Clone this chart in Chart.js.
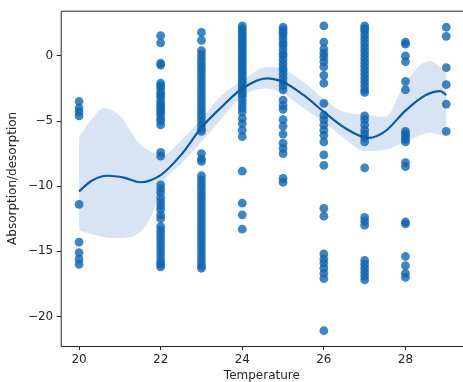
<!doctype html>
<html lang="en">
  <head>
    <meta charset="utf-8">
    <title>Absorption vs temperature</title>
    <style>
      * { margin: 0; padding: 0; }
      body { background: white; overflow: hidden; }
    </style>
  </head>
  <body>
    <canvas id="myChart" width="463" height="382"></canvas>
    <script src="https://cdn.jsdelivr.net/npm/chart.js"></script>
    <script>
    // tick labels
    const xTicks = [20, 22, 24, 26, 28];
    const yTicks = [-20, -15, -10, -5, 0];

    // observations per temperature
    const temps = [20, 22, 23, 24, 25, 26, 27, 28, 29];
    const t20 = [-3.5, -4.0, -4.3, -4.6, -11.4, -14.3, -15.1, -15.6, -16.0];
    const t22 = [1.55, 1.0, -0.55, -0.7, -2.1, -2.3, -2.5, -2.8, -3.0, -3.2, -3.5, -3.7, -3.9, -4.1, -4.3, -4.5, -4.8, -5.0, -5.3,
                 -7.4, -7.7, -9.9, -10.2, -10.5, -10.9, -11.2, -11.5, -11.8, -12.2, -12.5, -13.1, -13.4, -13.7, -14.0, -14.3,
                 -14.6, -14.9, -15.2, -15.5, -15.8, -16.0, -16.2];
    const t23 = [1.8, 1.2, 0.4, 0.1, -0.2, -0.5, -0.8, -1.1, -1.4, -1.7, -2.0, -2.3, -2.6, -2.9, -3.2, -3.5, -3.8, -4.1, -4.4,
                 -4.7, -5.0, -5.3, -5.6, -5.8, -7.5, -7.9, -8.1, -9.2, -9.5, -9.8, -10.1, -10.4, -10.7, -11.0, -11.3, -11.6,
                 -11.9, -12.2, -12.5, -12.8, -13.1, -13.4, -13.7, -14.0, -14.3, -14.6, -14.9, -15.2, -15.5, -15.8, -16.1, -16.3];
    const t24 = [2.3, 2.1, 1.9, 1.7, 1.5, 1.3, 1.1, 0.9, 0.7, 0.5, 0.3, 0.1, -0.1, -0.3, -0.5, -0.7, -0.9, -1.1, -1.3, -1.5,
                 -1.7, -1.9, -2.1, -2.3, -2.5, -2.7, -2.9, -3.1, -3.4, -3.7, -4.0, -4.3, -4.8, -5.2, -5.7, -6.2, -8.85,
                 -11.3, -12.2, -13.3];
    const t25 = [2.2, 2.0, 1.8, 1.6, 1.3, 1.0, 0.8, 0.5, 0.2, 0.0, -0.3, -0.6, -0.9, -1.1, -1.4, -1.7, -2.0, -2.3, -2.6,
                 -3.4, -3.8, -4.1, -4.9, -5.4, -6.0, -6.7, -7.1, -7.5, -9.4, -9.7];
    const t26 = [2.3, 1.05, 0.55, 0.2, -0.1, -0.45, -0.85, -1.5, -2.1, -3.65, -4.55, -4.9, -5.3, -5.7, -6.1, -6.6, -7.6, -8.4,
                 -11.7, -12.3, -15.2, -15.6, -15.9, -16.3, -16.7, -17.1, -21.1];
    const t27 = [2.3, 2.1, 1.9, 1.6, 1.3, 1.0, 0.7, 0.4, 0.1, -0.2, -0.5, -0.8, -1.1, -1.4, -1.7, -2.0, -2.3, -2.6, -2.8,
                 -4.6, -4.9, -5.3, -5.7, -6.0, -6.3, -6.6, -8.6, -12.4, -12.7, -13.0, -15.7, -16.0, -16.3, -16.6, -16.9, -17.2];
    const t28 = [1.05, 0.9, 0.0, -0.45, -1.95, -2.6, -5.8, -6.0, -6.2, -6.4, -6.6, -8.2, -8.5, -12.75, -12.9, -15.4, -16.1,
                 -16.7, -17.0];
    const t29 = [2.2, 1.5, -0.9, -2.2, -3.7, -5.8];
    const groups = [t20, t22, t23, t24, t25, t26, t27, t28, t29];

    // fitted curve and its confidence band
    const fitX = [20, 20.3, 20.7, 21.1, 21.5, 22, 22.5, 23, 23.5, 24, 24.6, 25, 25.5, 26, 26.5, 27.1, 27.5, 28, 28.5, 28.85, 29];
    const fitY = [-10.4, -9.6, -9.2, -9.35, -9.7, -9.15, -7.6, -5.5, -3.9, -2.5, -1.72, -2.0, -3.0, -4.3, -5.5, -6.3, -5.8,
                  -4.2, -3.0, -2.7, -3.0];
    const bandX = [20, 20.3, 20.6, 21, 21.5, 21.8, 22, 22.5, 23, 23.5, 24, 24.6, 25, 25.5, 26, 26.5, 27, 27.5, 28, 28.6, 29];
    const bandHi = [-6.2, -4.9, -4.0, -4.6, -6.8, -7.4, -7.7, -6.5, -4.8, -3.0, -1.9, -0.85, -1.0, -2.0, -3.3, -4.3, -4.5,
                    -4.7, -2.0, -0.4, -1.3];
    const bandLo = [-13.4, -13.7, -13.9, -14.0, -13.5, -12.1, -10.1, -8.3, -6.6, -4.8, -3.1, -2.5, -2.9, -4.0, -5.1, -6.3,
                    -7.3, -7.2, -6.6, -5.9, -6.2];

    const pts = [];
    groups.forEach((g, i) => g.forEach(v => pts.push({ x: temps[i], y: v })));
    const xy = (xs, ys) => xs.map((x, i) => ({ x: x, y: ys[i] }));

    const ink = '#262626';
    const font = { family: 'DejaVu Sans', size: 12 };

    // axes box (right spine falls just past the canvas edge, as in the original)
    const frame = {
      id: 'frame',
      afterDraw(chart) {
        const a = chart.chartArea, c = chart.ctx;
        c.save();
        c.strokeStyle = ink;
        c.lineWidth = 1;
        c.beginPath();
        c.moveTo(a.right + 2, a.top + 0.5);
        c.lineTo(a.left + 0.5, a.top + 0.5);
        c.lineTo(a.left + 0.5, a.bottom + 0.5);
        c.lineTo(a.right + 2, a.bottom + 0.5);
        c.stroke();
        c.restore();
      }
    };

    const config = {
      type: 'scatter',
      data: {
        datasets: [
          { type: 'line', data: xy(bandX, bandHi), borderWidth: 0, pointRadius: 0, fill: '+1',
            backgroundColor: 'rgba(190,210,235,0.6)', cubicInterpolationMode: 'monotone', order: 3 },
          { type: 'line', data: xy(bandX, bandLo), borderWidth: 0, pointRadius: 0, fill: false,
            cubicInterpolationMode: 'monotone', order: 3 },
          { data: pts, backgroundColor: 'rgba(16,102,176,0.8)', borderWidth: 0, pointRadius: 4.4, order: 2 },
          { type: 'line', data: xy(fitX, fitY), borderColor: '#0a5c9e', borderWidth: 2.2, pointRadius: 0, fill: false,
            cubicInterpolationMode: 'monotone', order: 1 }
        ]
      },
      options: {
        responsive: false,
        animation: false,
        layout: { autoPadding: false, padding: { top: 10.7, right: 0, left: 0, bottom: 0 } },
        plugins: { legend: { display: false }, tooltip: { enabled: false } },
        scales: {
          x: {
            type: 'linear', min: 19.55, max: 29.41,
            afterFit: s => { s.height = 36; },
            afterBuildTicks: s => { s.ticks = xTicks.map(v => ({ value: v })); },
            grid: { drawOnChartArea: false, tickLength: 4, tickColor: ink },
            border: { display: false },
            ticks: { color: ink, font: font, padding: 3, autoSkip: false, maxRotation: 0 },
            title: { display: true, text: 'Temperature', color: ink, font: font, padding: { top: 0, bottom: -1.2 } }
          },
          y: {
            min: -22.27, max: 3.47,
            afterFit: s => { s.width = 60.7; },
            afterBuildTicks: s => { s.ticks = yTicks.map(v => ({ value: v })); },
            grid: { drawOnChartArea: false, tickLength: 4, tickColor: ink },
            border: { display: false },
            ticks: { color: ink, font: font, padding: 3.5, autoSkip: false,
                     callback: v => String(v).replace('-', '\u2212') },
            title: { display: true, text: 'Absorption/desorption', color: ink, font: font, padding: { top: 6, bottom: 0 } }
          }
        }
      },
      plugins: [frame]
    };

    const myChart = new Chart(document.getElementById('myChart'), config);
    </script>
  </body>
</html>
